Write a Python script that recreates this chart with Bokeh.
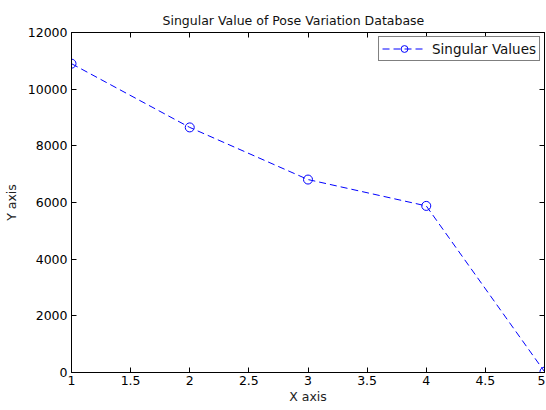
from bokeh.plotting import figure
from bokeh.models import Range1d, FixedTicker, LinearAxis, Legend, LegendItem
from bokeh.embed import file_html
from bokeh.resources import INLINE

x_vals = [1, 2, 3, 4, 5]
singular_values = [10900, 8650, 6810, 5880, 30]
x_ticks = [1, 1.5, 2, 2.5, 3, 3.5, 4, 4.5, 5]
x_tick_labels = ["1", "1.5", "2", "2.5", "3", "3.5", "4", "4.5", "5"]
y_ticks = [0, 2000, 4000, 6000, 8000, 10000, 12000]

FONT = "DejaVu Sans"
BLUE = "#0000ff"

p = figure(frame_width=473, frame_height=340, output_backend="svg",
           toolbar_location=None, x_range=Range1d(1, 5), y_range=Range1d(0, 12000),
           min_border_left=68, min_border_right=1, min_border_top=32, min_border_bottom=28,
           title="Singular Value of Pose Variation Database")
p.title.align = "left"
p.title.offset = 91
p.title.text_font = FONT
p.title.text_font_size = "12.5px"
p.title.text_font_style = "normal"
p.title.text_color = "#111111"
p.grid.visible = False
p.outline_line_color = "black"
p.outline_line_width = 1
p.background_fill_color = "white"
p.border_fill_color = "white"

def style_axis(ax, labels=True):
    ax.major_tick_in = 5
    ax.major_tick_out = 0
    ax.minor_tick_line_color = None
    ax.axis_line_color = "black"
    ax.major_tick_line_color = "black"
    ax.major_label_text_font = FONT
    ax.major_label_text_font_size = "12.5px"
    ax.major_label_text_color = "black"
    ax.axis_label_text_font = FONT
    ax.axis_label_text_font_size = "12.5px"
    ax.axis_label_text_font_style = "normal"
    ax.axis_label_text_color = "#222222"

xa = p.xaxis[0]
xa.ticker = FixedTicker(ticks=x_ticks)
xa.major_label_overrides = {t: l for t, l in zip(x_ticks, x_tick_labels)}
xa.axis_label = "X axis"
xa.major_label_standoff = 3
xa.axis_label_standoff = 1
style_axis(xa)

ya = p.yaxis[0]
ya.ticker = FixedTicker(ticks=y_ticks)
ya.axis_label = "Y axis"
ya.major_label_standoff = 4
ya.axis_label_standoff = 6
style_axis(ya)

top = LinearAxis(ticker=FixedTicker(ticks=x_ticks), major_label_standoff=0,
                 major_label_overrides={t: "" for t in x_ticks})
style_axis(top, labels=False)
p.add_layout(top, "above")
right = LinearAxis(ticker=FixedTicker(ticks=y_ticks), major_label_standoff=0,
                   major_label_overrides={t: "" for t in y_ticks})
style_axis(right, labels=False)
p.add_layout(right, "right")

ln = p.line(x_vals, singular_values, line_color=BLUE, line_dash="7 4", line_width=1)
sc = p.scatter(x_vals, singular_values, marker="circle", size=9, fill_color=None,
               line_color=BLUE, line_width=1)

legend = Legend(items=[LegendItem(label="Singular Values", renderers=[ln, sc])],
                location="top_right", label_text_font=FONT, label_text_font_size="13.5px",
                label_text_color="#111111",
                border_line_color="black", border_line_width=1, glyph_width=44,
                glyph_height=17, label_height=17,
                padding=3, margin=4, spacing=0, label_standoff=6)
p.add_layout(legend)

open("out.html", "w").write(file_html(p, INLINE))
